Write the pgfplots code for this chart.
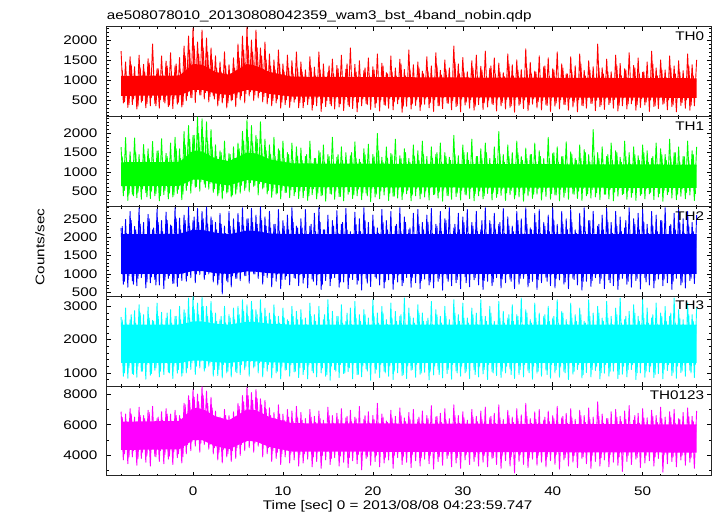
\documentclass[border=0pt]{standalone}
\usepackage{fontspec}
\setmainfont{Liberation Sans}[FakeStretch=1.22]
\usepackage{pgfplots}
\pgfplotsset{compat=1.18}
\usepackage{pgfplotstable}
\usepgfplotslibrary{fillbetween}
\definecolor{qred}{rgb}{1,0,0}
\definecolor{qgreen}{rgb}{0,1,0}
\definecolor{qblue}{rgb}{0,0,1}
\definecolor{qcyan}{rgb}{0,1,1}
\definecolor{qmag}{rgb}{1,0,1}

% extremes of the light curves (alternating high / low)
\pgfplotstableread{
t a b c d e
-8.00 1720 1640 2250 2680 6850
-7.75 420 380 720 900 3700
-7.50 1450 1890 2480 2950 6700
-7.25 310 260 640 840 3450
-7.00 1580 1520 2700 2600 7050
-6.75 380 420 810 980 3900
-6.50 1330 1880 2290 2870 6500
-6.25 270 330 680 870 3350
-6.00 1620 1450 2790 3050 7150
-5.75 440 290 900 1050 3800
-5.50 1390 1710 2400 2750 6600
-5.25 300 460 620 810 3550
-5.00 1530 1600 2620 2980 6950
-4.75 350 310 760 930 3300
-4.50 1900 1790 2200 2580 7200
-4.25 410 380 850 1080 3950
-4.00 1280 1540 2760 3100 6400
-3.75 290 250 700 880 3600
-3.50 1600 1860 2450 2820 6850
-3.25 460 410 600 950 3450
-3.00 1470 1480 2680 2650 7050
-2.75 330 300 880 1020 3750
-2.50 1680 1750 2330 2900 6700
-2.25 280 350 740 830 3400
-2.00 1350 1900 2800 2700 6950
-1.75 390 440 660 990 3850
-1.50 1560 1600 2520 3000 6600
-1.25 320 280 820 900 3500
-1.00 1850 2050 2600 2900 7400
-0.75 480 520 800 1000 4100
-0.50 2100 2200 2820 3250 7900
-0.25 560 450 900 1100 4300
0.00 2300 1950 2450 3300 8300
0.25 430 600 760 950 4600
0.50 1950 2420 2780 3100 8000
0.75 620 500 980 1150 4200
1.00 2250 2380 2700 3280 8500
1.25 520 680 850 1050 4700
1.50 2050 2300 2820 3000 8200
1.75 450 550 1000 1200 4400
2.00 1800 2100 2550 3150 7800
2.25 600 470 780 900 4100
2.50 1600 1700 2400 2800 6900
2.75 350 380 700 920 3700
3.00 1450 1550 2650 2600 6500
3.25 420 300 460 850 3500
3.50 1700 1800 2300 3000 7000
3.75 300 450 820 1000 3900
4.00 1380 1480 2700 2750 6600
4.25 470 350 650 880 3600
4.50 1550 1650 2500 2950 6850
4.75 330 420 880 1040 3800
5.00 1900 1750 2650 3000 7400
5.25 500 450 820 950 4000
5.50 2100 2050 2800 3200 7900
5.75 420 520 950 1100 4300
6.00 2320 2350 2500 3050 8450
6.25 600 480 750 900 4500
6.50 2000 2200 2780 3150 8100
6.75 480 620 1000 1150 4200
7.00 2250 1950 2600 2900 8300
7.25 550 400 880 1000 4600
7.50 1800 2300 2820 3200 7700
7.75 450 560 720 880 3900
8.00 1950 1850 2550 2950 7600
8.25 400 430 900 1050 4100
8.50 1650 1700 2700 2800 7100
8.75 350 340 650 850 3600
9.00 1500 1900 2350 3050 6800
9.25 420 420 800 1000 3800
9.50 1750 1600 2750 2700 7300
9.75 290 300 600 820 3400
10.00 1400 1800 2450 2950 6700
10.25 380 460 850 1080 3900
10.50 1620 1500 2600 2600 7000
10.75 310 330 700 900 3500
11.00 1480 1750 2800 3000 6900
11.25 440 380 900 1030 3700
11.50 1700 1650 2300 2850 7200
11.75 300 310 680 860 3300
12.00 1450 1620 2500 2900 6800
12.25 300 330 750 950 3500
12.50 1250 1400 2750 2650 6400
12.75 380 260 620 820 3750
13.00 1580 1800 2300 3100 7000
13.25 240 410 860 1060 3250
13.50 1320 1350 2650 2750 6550
13.75 350 300 700 880 3600
14.00 1700 1550 2800 3000 6900
14.25 210 380 580 1000 3150
14.50 1400 1700 2200 2600 6300
14.75 330 240 820 900 3700
15.00 1180 1450 2600 3200 7150
15.25 400 440 680 780 3400
15.50 1520 1900 2450 2850 6600
15.75 270 290 900 1100 3850
16.00 1360 1380 2720 2700 6750
16.25 320 360 640 860 3300
16.50 1620 1650 2350 3050 7050
16.75 230 250 780 980 3550
17.00 1270 1500 2780 2550 6450
17.25 370 420 600 1040 3200
17.50 1800 1420 2150 2950 6950
17.75 280 310 850 820 3650
18.00 1390 1780 2680 3150 6500
18.25 200 380 720 950 3450
18.50 1480 1330 2500 2750 7200
18.75 350 280 560 880 3050
19.00 1230 1600 2800 2900 6350
19.25 410 450 880 1120 3800
19.50 1550 1720 2400 2650 6850
19.75 260 230 660 780 3350
20.00 1330 1450 2600 3200 6600
20.25 310 350 920 990 3600
20.50 1650 2000 2250 2800 7400
20.75 220 300 700 860 3250
21.00 1420 1380 2750 3000 6700
21.25 380 400 620 1050 3500
21.50 1180 1650 2450 2600 6250
21.75 290 260 840 900 3700
22.00 1600 1480 2700 3100 6950
22.25 250 370 580 800 3150
22.50 1300 1850 2300 2850 6550
22.75 400 320 780 1000 3850
23.00 1520 1420 2800 2700 7100
23.25 190 280 680 920 3400
23.50 1260 1600 2550 3250 6450
23.75 340 430 900 830 3550
24.00 1750 1350 2200 2950 6800
24.25 270 250 640 1080 3200
24.50 1380 1700 2650 2650 7000
24.75 360 380 760 870 3650
25.00 1450 1550 2750 3050 6350
25.25 230 300 600 960 3300
25.50 1220 1800 2400 2800 6900
25.75 390 350 860 1020 3750
26.00 1580 1400 2600 2550 6600
26.25 300 270 700 790 3450
26.50 1350 1650 2780 3150 7250
26.75 210 410 620 940 3100
27.00 1680 1450 2350 2900 6500
27.25 350 320 800 1100 3600
27.50 1240 1750 2700 2700 6750
27.75 280 240 560 850 3350
28.00 1500 1500 2500 3000 7050
28.25 420 390 880 980 3800
28.50 1300 1380 2800 2600 6400
28.75 250 290 680 810 3250
29.00 1850 1950 2250 3200 7300
29.25 330 360 760 1060 3500
29.50 1400 1420 2650 2750 6600
29.75 200 270 600 900 3150
30.00 1560 1700 2550 3100 6850
30.25 370 420 920 1000 3700
30.50 1200 1500 2750 2650 6300
30.75 290 310 650 830 3400
31.00 1480 1850 2400 2950 7000
31.25 240 250 840 1090 3600
31.50 1620 1400 2700 2800 6550
31.75 380 380 700 880 3300
32.00 1340 1600 2200 3200 6900
32.25 260 300 580 970 3550
32.50 1720 1750 2800 2700 7150
32.75 320 440 800 800 3250
33.00 1290 1350 2450 3000 6450
33.25 400 270 680 1040 3800
33.50 1550 1650 2650 2550 6750
33.75 220 340 900 920 3400
34.00 1420 2050 2350 3150 7300
34.25 350 390 620 860 3150
34.50 1180 1450 2780 2850 6350
34.75 270 260 760 1000 3650
35.00 1650 1700 2550 2650 6950
35.25 310 410 860 1120 3300
35.50 1380 1500 2300 3050 6500
35.75 190 300 600 830 2850
36.00 1500 1800 2700 2750 7050
36.25 360 350 720 950 3600
36.50 1260 1400 2500 3250 6650
36.75 280 240 880 880 3400
37.00 1780 1620 2800 2900 7400
37.25 230 380 650 1060 3200
37.50 1440 1450 2250 2600 6400
37.75 390 310 800 810 3750
38.00 1220 1750 2650 3100 6850
38.25 300 420 580 990 3350
38.50 1600 1550 2750 2800 7000
38.75 250 270 760 900 3550
39.00 1330 1350 2400 2700 6300
39.25 370 360 900 1080 3250
39.50 1550 1900 2600 3000 6900
39.75 210 290 680 840 3650
40.00 1280 1480 2800 2650 6600
40.25 340 400 620 1000 3400
40.50 1700 1650 2350 3200 7200
40.75 270 250 840 870 3100
41.00 1400 1400 2700 2850 6450
41.25 380 340 720 1040 3700
41.50 1150 1780 2500 2600 6750
41.75 240 290 600 800 3300
42.00 1580 1520 2750 3100 7050
42.25 320 430 880 960 3550
42.50 1350 1350 2200 2750 6350
42.75 200 310 700 1100 3200
43.00 1650 1700 2650 2950 6950
43.25 360 260 560 850 3800
43.50 1240 1580 2800 2550 6600
43.75 290 380 800 1010 3450
44.00 1480 1450 2450 3200 7100
44.25 410 320 660 880 3150
44.50 1330 2100 2700 2800 6500
44.75 230 350 900 1070 3600
45.00 1900 1500 2300 3000 7500
45.25 330 280 740 820 3300
45.50 1300 1650 2600 2650 6700
45.75 260 420 600 990 3700
46.00 1520 1400 2780 3150 6400
46.25 380 300 840 900 3250
46.50 1200 1750 2400 2700 6850
46.75 290 250 680 1050 3550
47.00 1620 1550 2700 2950 7000
47.25 220 370 580 830 3350
47.50 1410 1380 2550 3250 6550
47.75 350 410 880 960 2950
48.00 1280 1800 2250 2600 6900
48.25 270 290 720 880 3600
48.50 1680 1500 2800 2850 7250
48.75 400 340 640 1100 3400
49.00 1360 1650 2500 3050 6300
49.25 240 260 820 800 3750
49.50 1550 1420 2650 2700 6750
49.75 310 390 590 1000 3200
50.00 1190 1700 2750 3200 7050
50.25 370 300 900 870 3500
50.50 1450 1550 2350 2950 6450
50.75 210 430 700 1030 3650
51.00 1720 1350 2700 2650 6950
51.25 330 280 620 860 3300
51.50 1300 1750 2600 3100 6600
51.75 280 350 860 980 3800
52.00 1500 1600 2450 2800 7150
52.25 390 240 680 820 2900
52.50 1250 1450 2800 3000 6500
52.75 250 410 760 1070 3450
53.00 1600 1850 2300 2700 6850
53.25 330 320 580 920 3600
53.50 1350 1500 2650 3250 7000
53.75 200 280 880 840 3250
54.00 1480 1650 2750 2900 6400
54.25 360 370 700 1010 3700
54.50 1230 1400 2500 2600 6800
54.75 290 300 620 900 3350
55.00 1650 1800 2700 3100 7100
55.25 240 400 820 1080 3550
55.50 1380 1550 2400 2750 6550
55.75 350 260 740 860 3150
56.00 1500 1650 2600 2950 6900
}\lcdata

% intermediate bins (smaller excursions)
\pgfplotstableread{
t a b c d e
-7.875 1250 1400 2300 2600 6500
-7.625 450 520 800 1000 4100
-7.375 1100 1300 2100 2450 6200
-7.125 380 420 950 1150 3900
-6.875 1380 1250 2450 2750 6700
-6.625 520 380 720 950 4300
-6.375 1050 1500 2200 2500 6100
-6.125 340 470 880 1200 3800
-5.875 1300 1150 2350 2800 6600
-5.625 480 560 1000 1050 4200
-5.375 1200 1450 2050 2400 6400
-5.125 400 350 780 1250 4000
-4.875 1420 1350 2500 2650 6800
-4.625 560 500 920 980 4400
-4.375 1100 1250 2250 2550 6000
-4.125 350 440 700 1150 3900
-3.875 1280 1550 2400 2700 6500
-3.625 500 380 1050 1050 4300
-3.375 1150 1200 2150 2450 6300
-3.125 420 520 830 1300 4050
-2.875 1350 1400 2450 2800 6700
-2.625 370 450 960 1000 3950
-2.375 1050 1300 2300 2500 6200
-2.125 530 400 750 1200 4250
-1.875 1400 1600 2500 2700 6600
-1.625 440 550 900 1100 4100
-1.375 1200 1350 2200 2600 6400
-1.125 380 420 1000 1000 3900
-0.875 1600 1700 2450 2800 7300
-0.625 600 650 950 1150 4700
-0.375 1750 1850 2300 2650 7600
-0.125 550 700 1100 1300 4900
0.125 1850 1950 2550 2900 7800
0.375 700 620 1000 1200 5000
0.625 1650 2000 2400 2750 7500
0.875 620 750 1150 1350 4800
1.125 1800 1900 2500 3000 7900
1.375 680 600 980 1150 5100
1.625 1700 1800 2350 2700 7400
1.875 580 700 1100 1300 4700
2.125 1500 1650 2450 2800 7100
2.375 520 560 950 1100 4500
2.625 1300 1400 2200 2550 6500
2.875 480 450 850 1100 4200
3.125 1200 1500 2350 2700 6300
3.375 550 520 1000 1250 4400
3.625 1350 1300 2100 2500 6600
3.875 420 480 780 1050 4100
4.125 1150 1450 2300 2650 6200
4.375 500 400 950 1200 4300
4.625 1300 1350 2200 2600 6500
4.875 560 550 880 1000 4500
5.125 1550 1600 2400 2750 7200
5.375 600 650 1050 1250 4700
5.625 1750 1800 2300 2850 7500
5.875 650 600 950 1200 4900
6.125 1850 1900 2500 2700 7900
6.375 700 720 1100 1350 5000
6.625 1700 1750 2400 2900 7600
6.875 620 650 1000 1200 4800
7.125 1800 1850 2350 2750 7700
7.375 680 700 1150 1300 5000
7.625 1600 1700 2450 2800 7300
7.875 580 600 950 1150 4700
8.125 1500 1550 2300 2700 7000
8.375 550 520 1050 1250 4500
8.625 1350 1450 2250 2600 6600
8.875 480 500 900 1150 4300
9.125 1250 1400 2350 2700 6400
9.375 520 450 1000 1050 4200
9.625 1400 1550 2150 2500 6700
9.875 440 520 850 1200 4100
10.125 1200 1350 2300 2650 6300
10.375 500 470 950 1100 4350
10.625 1300 1450 2200 2550 6500
10.875 460 530 1050 1250 4150
11.125 1150 1300 2400 2700 6200
11.375 520 480 880 1050 4300
11.625 1280 1400 2250 2600 6450
11.875 430 500 980 1150 4050
12.125 1200 1300 2250 2600 6300
12.375 450 520 900 1100 4100
12.625 1050 1450 2050 2450 6000
12.875 520 380 1050 1250 4350
13.125 1300 1200 2350 2700 6500
13.375 380 560 800 1000 3900
13.625 1100 1350 2150 2550 6150
13.875 560 450 980 1300 4400
14.125 1250 1500 2400 2400 6400
14.375 420 400 720 1150 4000
14.625 1000 1250 2200 2750 5900
14.875 480 580 1100 950 4250
15.125 1350 1400 2000 2600 6600
15.375 350 420 880 1200 3800
15.625 1150 1150 2300 2350 6100
15.875 540 520 1000 1050 4450
16.125 1280 1450 2100 2700 6350
16.375 400 360 780 1250 3950
16.625 1080 1300 2400 2500 6050
16.875 500 600 1050 1000 4300
17.125 1400 1200 2200 2800 6550
17.375 330 480 900 1150 3850
17.625 1150 1500 2050 2450 6200
17.875 550 400 1100 1300 4400
18.125 1200 1350 2350 2650 6400
18.375 440 550 820 950 4050
18.625 1050 1250 2150 2550 5950
18.875 520 450 1000 1200 4350
19.125 1300 1450 2450 2750 6600
19.375 380 380 750 1050 3900
19.625 1100 1200 2000 2400 6100
19.875 570 560 1080 1300 4450
20.125 1250 1400 2300 2700 6350
20.375 420 420 880 1100 4000
20.625 1000 1550 2100 2500 6000
20.875 490 500 1000 1250 4300
21.125 1350 1250 2400 2800 6500
21.375 360 600 800 1000 3850
21.625 1150 1350 2200 2450 6150
21.875 530 440 1120 1200 4400
22.125 1200 1450 2050 2650 6450
22.375 450 370 850 1050 4000
22.625 1080 1200 2350 2550 6050
22.875 510 580 980 1300 4350
23.125 1400 1350 2150 2750 6600
23.375 340 450 760 950 3900
23.625 1100 1500 2400 2400 6200
23.875 560 520 1050 1200 4450
24.125 1250 1250 2250 2700 6350
24.375 400 400 900 1100 4050
24.625 1050 1400 2050 2500 5950
24.875 500 560 1100 1250 4300
25.125 1300 1300 2350 2800 6500
25.375 370 430 820 1000 3850
25.625 1150 1450 2200 2550 6100
25.875 540 500 1000 1300 4400
26.125 1220 1200 2400 2650 6400
26.375 430 590 780 1050 4000
26.625 1020 1350 2100 2450 6000
26.875 500 420 1080 1200 4350
27.125 1350 1500 2300 2750 6550
27.375 350 480 880 950 3900
27.625 1120 1250 2150 2500 6150
27.875 560 550 1000 1300 4450
28.125 1250 1400 2450 2700 6300
28.375 410 380 800 1100 4000
28.625 1000 1300 2000 2400 5900
28.875 480 600 1100 1250 4350
29.125 1450 1450 2350 2800 6600
29.375 360 450 850 1000 3850
29.625 1150 1200 2200 2550 6100
29.875 530 520 1050 1200 4400
30.125 1200 1500 2400 2650 6450
30.375 440 400 760 1050 4050
30.625 1050 1300 2100 2500 6000
30.875 500 570 1000 1300 4300
31.125 1300 1250 2300 2750 6500
31.375 340 440 900 950 3900
31.625 1100 1400 2150 2450 6200
31.875 550 500 1100 1200 4450
32.125 1250 1350 2450 2700 6350
32.375 420 380 820 1100 4000
32.625 1000 1500 2050 2550 5950
32.875 490 580 1000 1250 4350
33.125 1350 1200 2350 2800 6550
33.375 380 470 780 1000 3850
33.625 1150 1350 2200 2400 6100
33.875 540 430 1080 1300 4400
34.125 1200 1450 2400 2650 6450
34.375 430 560 860 1050 4000
34.625 1080 1250 2100 2500 6000
34.875 510 460 1000 1200 4350
35.125 1400 1400 2300 2750 6600
35.375 350 520 800 950 3900
35.625 1100 1200 2150 2550 6150
35.875 560 400 1100 1300 4450
36.125 1250 1500 2450 2700 6400
36.375 400 580 880 1100 4050
36.625 1050 1300 2050 2450 5900
36.875 500 450 1000 1250 4300
37.125 1300 1350 2350 2800 6550
37.375 370 500 760 1000 3850
37.625 1150 1450 2200 2500 6100
37.875 530 420 1050 1200 4400
38.125 1200 1250 2400 2650 6350
38.375 450 560 840 1050 4000
38.625 1000 1400 2100 2400 5950
38.875 480 480 1100 1300 4350
39.125 1350 1200 2300 2750 6500
39.375 360 590 800 950 3900
39.625 1100 1350 2150 2550 6200
39.875 550 440 1000 1250 4450
40.125 1250 1500 2450 2700 6400
40.375 420 400 880 1100 4050
40.625 1050 1250 2050 2500 6000
40.875 500 550 1080 1200 4300
41.125 1300 1400 2350 2800 6550
41.375 380 460 780 1000 3850
41.625 1150 1200 2200 2450 6100
41.875 520 600 1000 1300 4400
42.125 1200 1450 2400 2650 6450
42.375 440 420 850 1050 4000
42.625 1000 1300 2100 2550 5900
42.875 500 500 1100 1250 4350
43.125 1400 1350 2300 2750 6600
43.375 350 570 800 950 3900
43.625 1100 1500 2150 2500 6150
43.875 560 430 1050 1300 4450
44.125 1250 1250 2450 2700 6350
44.375 410 540 820 1100 4000
44.625 1050 1400 2000 2400 6000
44.875 490 460 1000 1200 4300
45.125 1300 1350 2350 2800 6550
45.375 370 600 880 1000 3850
45.625 1150 1200 2200 2550 6100
45.875 540 420 1100 1250 4400
46.125 1200 1450 2400 2650 6400
46.375 430 550 760 1050 4050
46.625 1000 1300 2100 2450 5950
46.875 510 480 1000 1300 4350
47.125 1350 1500 2300 2750 6500
47.375 360 580 850 950 3900
47.625 1100 1250 2150 2500 6200
47.875 550 440 1080 1200 4450
48.125 1250 1400 2450 2700 6350
48.375 400 520 800 1100 4000
48.625 1050 1200 2050 2400 5900
48.875 490 460 1000 1250 4300
49.125 1300 1450 2350 2800 6600
49.375 380 590 880 1000 3850
49.625 1150 1300 2200 2550 6100
49.875 530 430 1050 1300 4400
50.125 1200 1500 2400 2650 6450
50.375 440 560 780 1050 4000
50.625 1000 1250 2100 2500 6000
50.875 500 470 1100 1200 4350
51.125 1400 1400 2300 2750 6550
51.375 350 600 820 950 3900
51.625 1100 1200 2150 2450 6150
51.875 560 440 1000 1300 4450
52.125 1250 1450 2450 2700 6400
52.375 410 520 860 1100 4050
52.625 1050 1300 2000 2550 5950
52.875 500 480 1080 1250 4300
53.125 1300 1350 2350 2800 6500
53.375 370 580 800 1000 3900
53.625 1150 1500 2200 2500 6100
53.875 540 420 1050 1200 4400
54.125 1200 1250 2400 2650 6350
54.375 430 550 760 1050 4000
54.625 1000 1400 2100 2400 5900
54.875 500 470 1000 1300 4350
55.125 1350 1300 2300 2750 6550
55.375 360 590 880 1000 3850
55.625 1100 1450 2150 2550 6200
55.875 550 430 1100 1250 4450
}\mddata

% solid central part of each band
\pgfplotstableread{
t la ua lb ub lc uc ld ud le ue
-8 600 1100 630 1250 1000 2080 1300 2450 4350 6200
-1.5 610 1110 640 1260 1000 2090 1300 2450 4400 6250
0 750 1400 800 1550 1080 2200 1370 2550 5000 7100
1 750 1380 800 1530 1080 2200 1370 2550 5000 7050
2.5 660 1200 700 1350 1020 2120 1320 2480 4600 6550
4 620 1130 650 1280 1000 2080 1300 2450 4400 6300
6 750 1400 790 1500 1070 2180 1360 2540 4950 7000
7 730 1350 770 1480 1060 2170 1350 2530 4900 6950
8.5 650 1200 690 1330 1020 2100 1320 2480 4550 6500
11 580 1080 610 1220 1000 2080 1300 2450 4250 6100
30 565 1060 595 1205 1000 2080 1300 2450 4220 6070
56 550 1040 585 1190 1000 2080 1300 2450 4180 6020
}\coredata

\pgfplotsset{
  panel/.style={
    scale only axis, width=604.3pt, height=89.8pt,
    anchor=south west,
    xmin=-9.6, xmax=57.6,
    xtick={-10,0,...,60}, minor x tick num=4,
    tick align=inside, tick pos=both,
    axis line style={black!85, line width=1pt},
    major tick length=4pt, minor tick length=2pt,
    every tick/.style={black, line width=0.6pt},
    /pgf/number format/1000 sep={},
    /pgf/number format/assume math mode=true,
    font=\fontsize{12.5}{14}\selectfont,
    yticklabel style={xshift=-5pt},
    xticklabel style={yshift=-6pt},
  },
  zz/.style={line width=0.9pt, line join=round, mark=none},
}

\begin{document}
\begin{tikzpicture}
\fontsize{12.5}{14}\selectfont
% TH0123 (bottom)
\begin{axis}[panel, at={(0pt,0pt)}, ymin=2650, ymax=8520,
  ytick={0,2000,...,10000}, minor y tick num=1]
  \addplot[draw=none, name path=le, forget plot] table[x=t,y=le]{\coredata};
  \addplot[draw=none, name path=ue, forget plot] table[x=t,y=ue]{\coredata};
  \addplot[qmag] fill between[of=ue and le];
  \addplot[qmag, zz] table[x=t,y=e]{\lcdata};
  \addplot[qmag, zz] table[x=t,y=e]{\mddata};
  \node[anchor=north east, inner sep=0pt] at (rel axis cs:0.989,0.948) {TH0123};
\end{axis}
% TH3
\begin{axis}[panel, at={(0pt,89.8pt)}, ymin=600, ymax=3300, xticklabels={},
  ytick={0,1000,...,4000}, minor y tick num=4]
  \addplot[draw=none, name path=ld, forget plot] table[x=t,y=ld]{\coredata};
  \addplot[draw=none, name path=ud, forget plot] table[x=t,y=ud]{\coredata};
  \addplot[qcyan] fill between[of=ud and ld];
  \addplot[qcyan, zz] table[x=t,y=d]{\lcdata};
  \addplot[qcyan, zz] table[x=t,y=d]{\mddata};
  \node[anchor=north east, inner sep=0pt] at (rel axis cs:0.989,0.948) {TH3};
\end{axis}
% TH2
\begin{axis}[panel, at={(0pt,179.6pt)}, ymin=390, ymax=2830, xticklabels={},
  ytick={0,500,...,3000}, minor y tick num=4]
  \addplot[draw=none, name path=lc, forget plot] table[x=t,y=lc]{\coredata};
  \addplot[draw=none, name path=uc, forget plot] table[x=t,y=uc]{\coredata};
  \addplot[qblue] fill between[of=uc and lc];
  \addplot[qblue, zz] table[x=t,y=c]{\lcdata};
  \addplot[qblue, zz] table[x=t,y=c]{\mddata};
  \node[anchor=north east, inner sep=0pt] at (rel axis cs:0.989,0.948) {TH2};
\end{axis}
% TH1
\begin{axis}[panel, at={(0pt,269.4pt)}, ymin=100, ymax=2430, xticklabels={},
  ytick={0,500,...,2500}, minor y tick num=4]
  \addplot[draw=none, name path=lb, forget plot] table[x=t,y=lb]{\coredata};
  \addplot[draw=none, name path=ub, forget plot] table[x=t,y=ub]{\coredata};
  \addplot[qgreen] fill between[of=ub and lb];
  \addplot[qgreen, zz] table[x=t,y=b]{\lcdata};
  \addplot[qgreen, zz] table[x=t,y=b]{\mddata};
  \node[anchor=north east, inner sep=0pt] at (rel axis cs:0.989,0.948) {TH1};
\end{axis}
% TH0
\begin{axis}[panel, at={(0pt,359.2pt)}, ymin=75, ymax=2325, xticklabels={},
  ytick={0,500,...,2500}, minor y tick num=4]
  \addplot[draw=none, name path=la, forget plot] table[x=t,y=la]{\coredata};
  \addplot[draw=none, name path=ua, forget plot] table[x=t,y=ua]{\coredata};
  \addplot[qred] fill between[of=ua and la];
  \addplot[qred, zz] table[x=t,y=a]{\lcdata};
  \addplot[qred, zz] table[x=t,y=a]{\mddata};
  \node[anchor=north east, inner sep=0pt] at (rel axis cs:0.989,0.948) {TH0};
\end{axis}
% texts
\node[anchor=base west, inner sep=0pt] at (0pt,456pt) {ae508078010\_20130808042359\_wam3\_bst\_4band\_nobin.qdp};
\node[anchor=base, inner sep=0pt] at (291pt,-33.5pt) {Time [sec] 0 = 2013/08/08 04:23:59.747};
\node[rotate=90, anchor=center, inner sep=0pt] at (-66.7pt,229pt) {Counts/sec};
\pgfresetboundingbox
\path (-106.7pt,-40pt) rectangle (610.3pt,476pt);
\end{tikzpicture}
\end{document}
